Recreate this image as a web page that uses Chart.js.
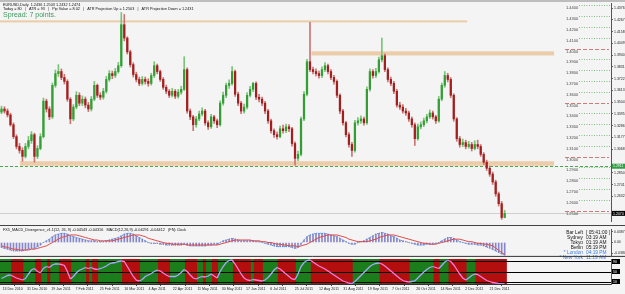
<!DOCTYPE html>
<html><head><meta charset="utf-8">
<script src="https://cdn.jsdelivr.net/npm/chart.js@4.4.1/dist/chart.umd.min.js"></script>
<style>
html,body{margin:0;padding:0;background:#f4f4f4;width:625px;height:294px;overflow:hidden}
#wrap{position:relative;width:625px;height:294px}
canvas{position:absolute;left:0}
.sep{position:absolute;left:0;width:625px;height:1px;background:#444}
#topbar{position:absolute;left:0;top:0;width:625px;height:2px;background:#bdbdbd}
</style></head><body>
<div id="wrap">
<canvas id="main" width="625" height="225" style="top:0;width:625px;height:225px"></canvas>
<div class="sep" style="top:225px"></div>
<canvas id="macd" width="625" height="33" style="top:226px;width:625px;height:33px"></canvas>
<canvas id="osc" width="625" height="35" style="top:259px;width:625px;height:35px"></canvas>
<div id="topbar"></div>
</div>
<script>
// ---------------- DATA ----------------
const firstOpen = 1.3412;
const closes = [
1.3441,1.3422,1.3386,1.3295,1.3185,1.3094,1.3057,1.3002,1.3094,1.3148,
1.3203,1.3002,1.3075,1.3185,1.3514,1.3441,1.3368,1.3660,1.3769,1.3788,
1.3733,1.3696,1.3532,1.3349,1.3459,1.3568,1.3495,1.3532,1.3477,1.3441,
1.3532,1.3660,1.3568,1.3550,1.3605,1.3715,1.3769,1.3751,1.3788,1.3842,
1.4222,1.4098,1.3970,1.3852,1.3760,1.3715,1.3678,1.3715,1.3696,1.3678,
1.3751,1.3842,1.3788,1.3715,1.3642,1.3605,1.3568,1.3605,1.3559,1.3596,
1.3623,1.3806,1.3422,1.3368,1.3295,1.3349,1.3395,1.3422,1.3313,1.3276,
1.3368,1.3331,1.3295,1.3495,1.3568,1.3660,1.3678,1.3788,1.3578,1.3495,
1.3422,1.3459,1.3568,1.3623,1.3678,1.3550,1.3532,1.3495,1.3422,1.3331,
1.3240,1.3203,1.3185,1.3258,1.3240,1.3276,1.3258,1.3121,1.2984,1.3021,
1.3349,1.3578,1.3879,1.3806,1.3788,1.3769,1.3751,1.3806,1.3842,1.3788,
1.3733,1.3696,1.3568,1.3422,1.3313,1.3203,1.3112,1.3057,1.3313,1.3331,
1.3349,1.3313,1.3623,1.3788,1.3751,1.3788,1.3897,1.3934,1.3806,1.3715,
1.3678,1.3605,1.3477,1.3459,1.3422,1.3404,1.3349,1.3295,1.3166,1.3276,
1.3295,1.3331,1.3368,1.3404,1.3368,1.3331,1.3532,1.3660,1.3751,1.3715,
1.3568,1.3349,1.3166,1.3112,1.3130,1.3094,1.3112,1.3075,1.3112,1.3094,
1.3021,1.2948,1.2892,1.2838,1.2765,1.2655,1.2564,1.2436,1.2474];
const highs = [
1.3467,1.3462,1.3442,1.3402,1.3312,1.3202,1.3122,1.3082,1.3122,1.3187,
1.3232,1.3217,1.3102,1.3212,1.3542,1.3532,1.3462,1.3682,1.3802,1.3852,
1.3812,1.3762,1.3712,1.3547,1.3482,1.3602,1.3592,1.3562,1.3552,1.3502,
1.3557,1.3696,1.3672,1.3592,1.3632,1.3742,1.3797,1.3792,1.3817,1.3872,
1.4335,1.4317,1.4110,1.3985,1.3870,1.3782,1.3737,1.3742,1.3737,1.3722,
1.3772,1.3879,1.3857,1.3802,1.3732,1.3662,1.3622,1.3632,1.3622,1.3622,
1.3652,1.3925,1.3822,1.3442,1.3382,1.3372,1.3422,1.3452,1.3437,1.3332,
1.3392,1.3382,1.3347,1.3517,1.3597,1.3682,1.3712,1.3833,1.3802,1.3597,
1.3512,1.3487,1.3592,1.3652,1.3687,1.3692,1.3577,1.3552,1.3512,1.3437,
1.3347,1.3257,1.3227,1.3282,1.3292,1.3302,1.3297,1.3272,1.3137,1.3052,
1.3367,1.3602,1.3902,1.4244,1.3830,1.3812,1.3792,1.3832,1.3870,1.3857,
1.3807,1.3752,1.3712,1.3582,1.3437,1.3327,1.3222,1.3132,1.3337,1.3362,
1.3377,1.3367,1.3647,1.3812,1.3807,1.3817,1.3922,1.4098,1.3952,1.3822,
1.3737,1.3697,1.3622,1.3502,1.3482,1.3447,1.3422,1.3367,1.3312,1.3302,
1.3322,1.3357,1.3392,1.3432,1.3422,1.3382,1.3557,1.3682,1.3788,1.3772,
1.3732,1.3582,1.3362,1.3187,1.3162,1.3152,1.3142,1.3132,1.3147,1.3152,
1.3112,1.3037,1.2967,1.2912,1.2857,1.2782,1.2672,1.2584,1.2503];
const lows = [
1.3397,1.3402,1.3367,1.3282,1.3167,1.3072,1.3032,1.2957,1.2987,1.3072,
1.3122,1.2948,1.2982,1.3062,1.3172,1.3412,1.3342,1.3352,1.3642,1.3742,
1.3712,1.3672,1.3512,1.3304,1.3332,1.3442,1.3472,1.3472,1.3452,1.3417,
1.3422,1.3517,1.3547,1.3527,1.3532,1.3587,1.3697,1.3722,1.3732,1.3772,
1.3827,1.4072,1.3950,1.3830,1.3737,1.3692,1.3657,1.3662,1.3672,1.3652,
1.3662,1.3732,1.3767,1.3697,1.3622,1.3582,1.3547,1.3552,1.3537,1.3542,
1.3577,1.3612,1.3402,1.3342,1.3240,1.3272,1.3332,1.3377,1.3292,1.3252,
1.3262,1.3307,1.3267,1.3282,1.3477,1.3547,1.3632,1.3662,1.3557,1.3472,
1.3397,1.3402,1.3442,1.3552,1.3602,1.3527,1.3507,1.3472,1.3397,1.3307,
1.3217,1.3177,1.3162,1.3172,1.3217,1.3222,1.3232,1.3097,1.2920,1.2962,
1.3007,1.3332,1.3562,1.3787,1.3767,1.3747,1.3727,1.3732,1.3787,1.3767,
1.3712,1.3672,1.3547,1.3397,1.3292,1.3182,1.3087,1.3002,1.3042,1.3292,
1.3307,1.3292,1.3297,1.3607,1.3727,1.3732,1.3772,1.3877,1.3787,1.3692,
1.3657,1.3582,1.3457,1.3437,1.3402,1.3382,1.3327,1.3272,1.3103,1.3152,
1.3257,1.3277,1.3312,1.3352,1.3347,1.3307,1.3317,1.3517,1.3642,1.3692,
1.3547,1.3327,1.3142,1.3087,1.3092,1.3072,1.3077,1.3052,1.3062,1.3072,
1.3002,1.2927,1.2872,1.2817,1.2742,1.2632,1.2542,1.2418,1.2432];

const macdHist = [
-0.018,-0.021,-0.024,-0.027,-0.030,-0.030,-0.030,-0.030,-0.027,-0.024,
-0.021,-0.021,-0.015,-0.009,0.000,0.006,0.012,0.021,0.027,0.030,
0.033,0.033,0.030,0.024,0.021,0.018,0.015,0.012,0.009,0.006,
0.006,0.006,0.003,0.003,0.003,0.006,0.009,0.012,0.015,0.018,
0.024,0.030,0.033,0.033,0.030,0.024,0.018,0.012,0.006,0.000,
-0.003,-0.003,-0.003,-0.006,-0.006,-0.009,-0.009,-0.009,-0.009,-0.009,
-0.009,-0.006,-0.009,-0.012,-0.012,-0.012,-0.012,-0.012,-0.012,-0.009,
-0.009,-0.006,-0.006,0.000,0.006,0.009,0.012,0.015,0.012,0.009,
0.006,0.006,0.006,0.006,0.006,0.003,0.003,0.000,-0.003,-0.006,
-0.009,-0.012,-0.015,-0.015,-0.015,-0.015,-0.015,-0.018,-0.021,-0.018,
-0.006,0.009,0.021,0.027,0.030,0.033,0.033,0.033,0.033,0.030,
0.027,0.024,0.021,0.015,0.009,0.003,-0.003,-0.006,-0.006,0.000,
0.003,0.006,0.012,0.018,0.024,0.030,0.033,0.036,0.033,0.030,
0.024,0.021,0.015,0.009,0.006,0.003,0.000,-0.003,-0.006,-0.009,
-0.009,-0.009,-0.006,-0.006,-0.006,-0.003,0.000,0.006,0.012,0.018,
0.018,0.015,0.009,0.003,0.000,-0.003,-0.006,-0.006,-0.006,-0.009,
-0.009,-0.012,-0.016,-0.020,-0.025,-0.030,-0.036,-0.041,-0.045];
const macdSignal = [
-0.012,-0.015,-0.018,-0.021,-0.024,-0.024,-0.027,-0.027,-0.027,-0.027,
-0.024,-0.024,-0.021,-0.018,-0.015,-0.012,-0.006,0.000,0.006,0.012,
0.018,0.021,0.024,0.027,0.027,0.027,0.024,0.021,0.018,0.015,
0.012,0.009,0.009,0.006,0.006,0.006,0.006,0.006,0.009,0.012,
0.015,0.018,0.021,0.024,0.027,0.027,0.027,0.024,0.021,0.015,
0.012,0.009,0.006,0.003,0.000,-0.003,-0.003,-0.006,-0.006,-0.006,
-0.006,-0.006,-0.009,-0.009,-0.009,-0.009,-0.009,-0.009,-0.009,-0.009,
-0.009,-0.009,-0.009,-0.006,-0.003,0.000,0.003,0.006,0.009,0.009,
0.009,0.009,0.009,0.009,0.006,0.006,0.006,0.003,0.003,0.000,
0.000,-0.003,-0.006,-0.006,-0.009,-0.009,-0.012,-0.012,-0.012,-0.015,
-0.012,-0.009,-0.006,0.000,0.006,0.012,0.018,0.021,0.024,0.027,
0.027,0.027,0.027,0.024,0.021,0.018,0.012,0.009,0.006,0.003,
0.003,0.003,0.003,0.006,0.009,0.012,0.018,0.021,0.024,0.027,
0.027,0.027,0.024,0.021,0.018,0.015,0.012,0.009,0.006,0.003,
0.000,-0.003,-0.003,-0.006,-0.006,-0.006,-0.003,0.000,0.003,0.006,
0.009,0.012,0.012,0.012,0.009,0.006,0.003,0.003,0.000,-0.003,
-0.003,-0.006,-0.006,-0.009,-0.012,-0.020,-0.028,-0.036,-0.043];
const oscValues = [
22,28,34,36,30,24,20,16,22,40,
56,62,50,45,62,70,66,76,80,80,
78,74,50,20,30,45,55,60,66,62,
66,60,58,62,66,72,80,84,86,90,
92,90,70,50,30,15,12,18,30,36,
42,50,56,52,44,36,30,30,30,36,
46,58,50,36,24,20,26,30,28,32,
40,32,24,50,70,86,94,96,80,60,
40,24,16,14,18,16,14,12,16,26,
40,56,66,60,50,40,30,20,18,40,
70,86,94,96,88,80,72,66,60,52,
44,36,28,20,12,8,4,2,10,22,
34,46,58,70,78,82,84,80,72,62,
52,42,32,22,14,10,8,10,12,24,
36,48,58,66,70,66,62,74,88,94,
90,76,58,40,24,16,24,34,40,38,
30,22,14,10,6,4,2,1,0];

const priceTicks = [1.4376,1.4267,1.4158,1.4049,1.3940,1.3831,1.3722,1.3613,1.3504,1.3395,1.3286,1.3177,1.3068,1.2850,1.2741,1.2632];
const levelPrices = [1.44,1.43,1.42,1.41,1.40,1.39,1.38,1.37,1.36,1.35,1.34,1.33,1.32,1.31,1.30,1.29,1.28,1.27,1.26,1.25];
const supportLine = 1.2911;
const bidPrice = 1.2474;
const bands = [
  {from:-0.5, to:155.5, lo:1.4243, hi:1.4262},
  {from:103.5, to:184.5, lo:1.3937, hi:1.3975},
  {from:6.2, to:184.5, lo:1.2915, hi:1.2957}
];
const macdTicks = [0.0387, 0, -0.0380];
const oscLevels = [90, 50, 10];
const dateLabels = ['13 Dec 2010','31 Dec 2010','19 Jan 2011','7 Feb 2011','25 Feb 2011','16 Mar 2011','4 Apr 2011','22 Apr 2011','11 May 2011','30 May 2011','17 Jun 2011','6 Jul 2011','25 Jul 2011','12 Aug 2011','31 Aug 2011','19 Sep 2011','7 Oct 2011','26 Oct 2011','14 Nov 2011','2 Dec 2011','21 Dec 2011'];
const dateTickIdx = [0.3,8.5,16.6,24.7,32.8,41,49.1,57.2,65.4,73.5,81.6,89.7,97.9,106,114.1,122.3,130.4,138.5,146.6,154.8,162.9];
const header1 = 'EURUSD,Daily  1.2436 1.2503 1.2432 1.2474';
const header2 = 'Today = 80   |   ATR = 93   |   Pip Value = 8.02   |   ATR Projection Up = 1.2503   |   ATR Projection Down = 1.2431';
const macdTitle = 'FX5_MACD_Divergence_v1.1(12, 26, 9) -0.04543 -0.04316   MACD(12,26,9) -0.04291 -0.04412   (FN) Clock';
const clockRows = [['Bar Left','[ 05:41:00 ]',false],['Sydney','03:19 AM',false],['Tokyo','01:19 AM',false],['Berlin','05:19 PM',false],['* London','04:19 PM',true],['* New York','11:19 AM',true]];

// ---------------- BUILD ----------------
const F = 'Arial, "Liberation Sans", sans-serif';
Chart.defaults.font.family = F;
const opens = [firstOpen, ...closes.slice(0, -1)];
const bull = closes.map((c, i) => c >= opens[i]);
const X = {type:'linear', min:-0.5, max:203.5, offset:false, display:false};
const BULL = '#339e33', BEAR = '#a31e1e', BULLW = '#79c479', BEARW = '#cc7474';
const common = {responsive:false, animation:false, events:[], maintainAspectRatio:false,
  plugins:{legend:{display:false}, tooltip:{enabled:false}}};

const mainDeco = {
  id:'mainDeco',
  beforeDatasetsDraw(chart){
    const {ctx, scales:{x, y}, chartArea:a} = chart;
    ctx.save();
    ctx.fillStyle = '#ebcda9';
    for (const b of bands) {
      const x0 = x.getPixelForValue(b.from), x1 = x.getPixelForValue(b.to);
      const y0 = y.getPixelForValue(b.hi), y1 = y.getPixelForValue(b.lo);
      ctx.fillRect(x0, y0, x1 - x0, y1 - y0);
    }
    ctx.strokeStyle = '#cfcfcf'; ctx.lineWidth = 1;
    let py = Math.round(y.getPixelForValue(bidPrice)) + 0.5;
    ctx.beginPath(); ctx.moveTo(a.left, py); ctx.lineTo(a.right, py); ctx.stroke();
    ctx.strokeStyle = '#4aa84a'; ctx.setLineDash([3, 2]);
    py = Math.round(y.getPixelForValue(supportLine)) + 0.5;
    ctx.beginPath(); ctx.moveTo(a.left, py); ctx.lineTo(a.right, py); ctx.stroke();
    ctx.restore();
  },
  afterDraw(chart){
    const {ctx, scales:{y}, chartArea:a} = chart;
    ctx.save();
    ctx.textBaseline = 'middle'; ctx.textAlign = 'left';
    ctx.fillStyle = '#111'; ctx.font = '3.8px ' + F;
    ctx.fillText(header1, 3, 4.5);
    ctx.fillText(header2, 3, 8.5);
    ctx.fillStyle = '#3c9a5e'; ctx.font = '7px ' + F;
    ctx.fillText('Spread: 7 points.', 3, 15.5);
    for (const lv of levelPrices) {
      const py = Math.round(y.getPixelForValue(lv)) + 0.5;
      const major = Math.round(lv * 10000) % 500 === 0;
      ctx.lineWidth = 1;
      if (major) { ctx.strokeStyle = '#d07a7a'; ctx.setLineDash([4, 2]);
        ctx.beginPath(); ctx.moveTo(565, py); ctx.lineTo(609, py); ctx.stroke(); }
      else { ctx.strokeStyle = '#80c080'; ctx.setLineDash([1, 1.5]);
        ctx.beginPath(); ctx.moveTo(579, py); ctx.lineTo(610, py); ctx.stroke(); }
      ctx.setLineDash([]);
      ctx.fillStyle = '#444'; ctx.font = '4px ' + F;
      ctx.fillText(lv.toFixed(4), 566, py + 2.6);
    }
    const box = (v, bg, txt) => {
      const py = y.getPixelForValue(v);
      ctx.fillStyle = bg; ctx.fillRect(a.right + 1, py - 2.5, 13, 5);
      ctx.fillStyle = '#fff'; ctx.font = '3.5px ' + F;
      ctx.fillText(txt, a.right + 2, py + 0.2);
    };
    box(supportLine, '#2f9e44', supportLine.toFixed(4));
    box(bidPrice, '#000', bidPrice.toFixed(4));
    ctx.restore();
  }
};

new Chart(document.getElementById('main'), {
  type:'bar',
  data:{datasets:[
    {data: closes.map((c, i) => ({x:i, y:[lows[i], highs[i]]})), backgroundColor: bull.map(b => b ? BULLW : BEARW), barThickness:1, grouped:false, order:2},
    {data: closes.map((c, i) => ({x:i, y:[opens[i], c]})), backgroundColor: bull.map(b => b ? BULL : BEAR), barThickness:1.6, grouped:false, minBarLength:1, order:1}
  ]},
  options:{...common,
    layout:{padding:{top:3, bottom:1, left:0, right:0}},
    scales:{
      x: X,
      y: {position:'right', min:1.2395, max:1.4422,
        afterFit(s){ s.width = 14; },
        afterBuildTicks(s){ s.ticks = priceTicks.map(v => ({value:v})); },
        ticks:{font:{size:3.5}, color:'#222', padding:1, autoSkip:false, callback:v => Number(v).toFixed(4)},
        grid:{drawOnChartArea:false, tickLength:2, color:'#666'},
        border:{color:'#555'}}
    }},
  plugins:[mainDeco]
});

const macdDeco = {
  id:'macdDeco',
  afterDraw(chart){
    const {ctx, chartArea:a} = chart;
    ctx.save();
    ctx.textBaseline = 'middle';
    ctx.fillStyle = '#111'; ctx.font = '3.8px ' + F; ctx.textAlign = 'left';
    ctx.fillText(macdTitle, 3, 4);
    ctx.font = '4.8px ' + F;
    clockRows.forEach((r, k) => {
      const py = 6.5 + k * 5;
      ctx.fillStyle = r[2] ? '#3b7ddd' : '#111';
      ctx.textAlign = 'right'; ctx.fillText(r[0], 583, py);
      ctx.textAlign = 'left'; ctx.fillText(r[1], 586, py);
    });
    ctx.strokeStyle = '#333'; ctx.lineWidth = 1;
    ctx.beginPath(); ctx.moveTo(0, a.bottom + 0.5); ctx.lineTo(625, a.bottom + 0.5); ctx.stroke();
    ctx.restore();
  }
};

new Chart(document.getElementById('macd'), {
  type:'bar',
  data:{datasets:[
    {type:'line', data: macdSignal.map((v, i) => ({x:i, y:v})), borderColor:'#e04848', borderWidth:1, pointRadius:0, order:1},
    {type:'line', data: macdHist.map((v, i) => ({x:i, y:v})), borderColor:'#4f86d9', borderWidth:1, borderDash:[1, 1], pointRadius:0, order:2},
    {data: macdHist.map((v, i) => ({x:i, y:v})), backgroundColor:'#8686cc', barThickness:1, grouped:false, order:3}
  ]},
  options:{...common,
    layout:{padding:{top:0, bottom:1, left:0, right:0}},
    scales:{
      x: X,
      y: {position:'right', min:-0.048, max:0.048,
        afterFit(s){ s.width = 14; },
        afterBuildTicks(s){ s.ticks = macdTicks.map(v => ({value:v})); },
        ticks:{font:{size:3.5}, color:'#222', padding:1, autoSkip:false, callback:v => v === 0 ? '0.00' : Number(v).toFixed(4)},
        grid:{drawOnChartArea:false, tickLength:2, color:'#666'},
        border:{color:'#555'}}
    }},
  plugins:[macdDeco]
});

const oscDeco = {
  id:'oscDeco',
  beforeDatasetDraw(chart, args){
    if (args.index !== 0) return;
    const {ctx, scales:{y}, chartArea:a} = chart;
    ctx.save();
    ctx.strokeStyle = '#000'; ctx.lineWidth = 1;
    for (const lv of oscLevels) {
      const py = Math.round(y.getPixelForValue(lv)) + 0.5;
      ctx.beginPath(); ctx.moveTo(a.left, py); ctx.lineTo(a.right, py); ctx.stroke();
    }
    ctx.restore();
  },
  afterDraw(chart){
    const {ctx, scales:{y}, chartArea:a} = chart;
    ctx.save();
    ctx.textBaseline = 'middle'; ctx.textAlign = 'left';
    for (const lv of oscLevels) {
      const py = y.getPixelForValue(lv);
      ctx.fillStyle = '#000'; ctx.fillRect(a.right + 1, py - 2.5, 8, 5);
      ctx.fillStyle = '#fff'; ctx.font = '3.5px ' + F;
      ctx.fillText(String(lv), a.right + 2, py + 0.2);
    }
    ctx.restore();
  }
};

const rising = oscValues.map((v, i) => i === 0 ? true : v >= oscValues[i - 1]);
new Chart(document.getElementById('osc'), {
  type:'bar',
  data:{datasets:[
    {type:'line', data: oscValues.map((v, i) => ({x:i, y:v})), borderWidth:1.3, pointRadius:0, order:1,
      borderColor:'#c08ae8',
      segment:{borderColor: c => c.p1.parsed.y >= c.p0.parsed.y ? '#a7a8ff' : '#f27ee0'}},
    {data: oscValues.map((v, i) => ({x:i, y:[0, 100]})), backgroundColor: rising.map(r => r ? '#1c7d1c' : '#b30f0f'),
      barPercentage:1, categoryPercentage:1, inflateAmount:0.7, grouped:false, order:2}
  ]},
  options:{...common,
    layout:{padding:{top:0, bottom:0, left:0, right:0}},
    scales:{
      x: {type:'linear', min:-0.5, max:203.5, offset:false, position:'bottom',
        afterFit(s){ s.height = 10; },
        afterBuildTicks(s){ s.ticks = dateTickIdx.map(v => ({value:v})); },
        ticks:{font:{size:3.6}, color:'#222', align:'start', maxRotation:0, minRotation:0, autoSkip:false, padding:1,
          callback:(v, i) => dateLabels[i]},
        grid:{drawOnChartArea:false, tickLength:2, color:'#444'},
        border:{color:'#333'}},
      y: {position:'right', min:0, max:100,
        afterFit(s){ s.width = 14; },
        ticks:{display:false},
        grid:{display:false},
        border:{color:'#555'}}
    }},
  plugins:[oscDeco]
});
</script>
</body></html>
